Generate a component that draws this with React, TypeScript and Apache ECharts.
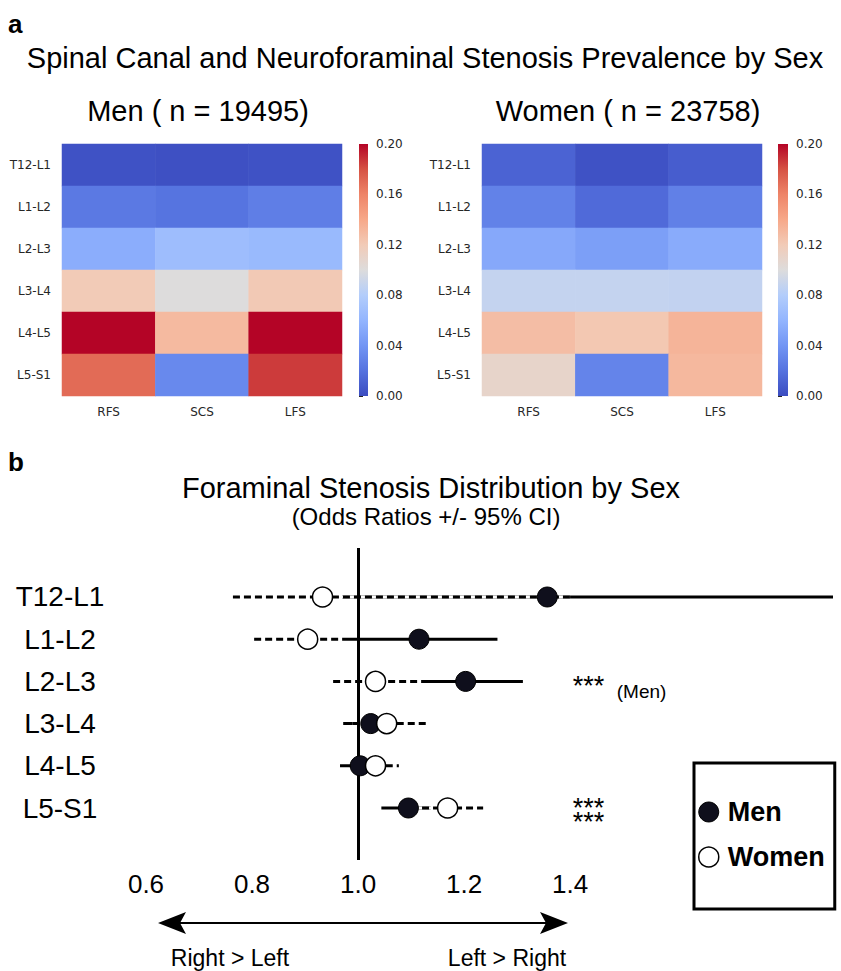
import React, { useEffect, useRef } from 'react';
import * as echarts from 'echarts';

// ---------- data ----------
const levels = ['T12-L1', 'L1-L2', 'L2-L3', 'L3-L4', 'L4-L5', 'L5-S1'];
const stenosisTypes = ['RFS', 'SCS', 'LFS'];

// prevalence per level: [RFS, SCS, LFS]
const menPrevalence = [
  [0.003, 0.002, 0.003],
  [0.024, 0.021, 0.027],
  [0.055, 0.067, 0.064],
  [0.12, 0.1, 0.121],
  [0.2, 0.13, 0.2],
  [0.17, 0.033, 0.186],
];
const womenPrevalence = [
  [0.012, 0.003, 0.009],
  [0.029, 0.016, 0.028],
  [0.052, 0.046, 0.054],
  [0.088, 0.088, 0.087],
  [0.128, 0.122, 0.133],
  [0.11, 0.03, 0.131],
];
const colorbarMin = 0;
const colorbarMax = 0.2;
const colorbarStep = 0.04;

// odds ratios (left vs right foraminal stenosis) with 95% CI
const menOR = [1.357, 1.115, 1.203, 1.024, 1.004, 1.095];
const menLow = [0.97, 0.97, 1.107, 0.972, 0.966, 1.044];
const menHigh = [1.93, 1.263, 1.311, 1.075, 1.04, 1.137];
const womenOR = [0.933, 0.905, 1.033, 1.054, 1.033, 1.169];
const womenLow = [0.764, 0.804, 0.953, 0.99, 0.99, 1.1];
const womenHigh = [1.4, 0.965, 1.132, 1.132, 1.077, 1.236];
const orTicks = [0.6, 0.8, 1.0, 1.2, 1.4];

// significance annotations
const sigRows = [2, 5];
const sigMarks = [['***'], ['***', '***']];
const sigNotes = ['(Men)', ''];

const coolwarm = [
  '#3b4cc0', '#5572df', '#7295f4', '#93b5fe', '#b3cdfb', '#dddcdc',
  '#f2cbb7', '#f7a889', '#ee8468', '#d65244', '#b40426',
];

const ARIAL = '"Liberation Sans", Arial, Helvetica, sans-serif';
const DEJAVU = '"DejaVu Sans", sans-serif';

export default function App() {
  const ref = useRef<HTMLDivElement>(null);

  useEffect(() => {
    if (!ref.current) return;
    const chart = echarts.init(ref.current, undefined, { renderer: 'svg' });

    const heatData = (m: number[][]) => {
      const out: number[][] = [];
      m.forEach((row, r) => row.forEach((v, c) => out.push([c, r, v])));
      return out;
    };

    const gradient = () =>
      new echarts.graphic.LinearGradient(
        0, 1, 0, 0,
        coolwarm.map((c, i) => ({ offset: i / (coolwarm.length - 1), color: c }))
      );

    const colorbarRender = (params: any, api: any) => {
      const tl = api.coord([0, colorbarMax]);
      const br = api.coord([1, colorbarMin]);
      return {
        type: 'rect',
        shape: { x: tl[0], y: tl[1], width: br[0] - tl[0], height: br[1] - tl[1] },
        style: { fill: gradient() },
      };
    };

    const ciRender = (dashed: boolean) => (params: any, api: any) => {
      const a = api.coord([api.value(0), api.value(2)]);
      const b = api.coord([api.value(1), api.value(2)]);
      const shape = { x1: a[0], y1: a[1], x2: b[0], y2: b[1] };
      if (!dashed) {
        return { type: 'line', shape, style: { stroke: '#000', lineWidth: 3 } };
      }
      return {
        type: 'group',
        children: [
          { type: 'line', shape, style: { stroke: '#ffffff', lineWidth: 3 } },
          { type: 'line', shape, style: { stroke: '#000', lineWidth: 3, lineDash: [7, 4] } },
        ],
      };
    };

    const ANNOT_X = 1.405;
    const annotRender = (params: any, api: any) => {
      const i = params.dataIndex;
      const p = api.coord([ANNOT_X, api.value(0)]);
      const marks = sigMarks[i];
      const children: any[] = [
        {
          type: 'text',
          x: p[0],
          y: p[1] + (marks.length === 1 ? 5 : 7),
          style: {
            text: marks.join('\n'),
            fontSize: 27,
            lineHeight: 14,
            fontFamily: ARIAL,
            fill: '#000',
            align: 'left',
            verticalAlign: 'middle',
          },
        },
      ];
      if (sigNotes[i]) {
        children.push({
          type: 'text',
          x: p[0] + 44,
          y: p[1] + 10,
          style: { text: sigNotes[i], fontSize: 19, fontFamily: ARIAL, fill: '#000', align: 'left', verticalAlign: 'middle' },
        });
      }
      return { type: 'group', children };
    };

    const heatX = (gi: number) => ({
      gridIndex: gi,
      type: 'category',
      data: stenosisTypes,
      axisLine: { show: false },
      axisTick: { show: false },
      axisLabel: { margin: 10, fontFamily: DEJAVU, fontSize: 12, color: '#262626' },
    });
    const heatY = (gi: number) => ({
      gridIndex: gi,
      type: 'category',
      data: levels,
      inverse: true,
      axisLine: { show: false },
      axisTick: { show: false },
      axisLabel: { margin: 11, fontFamily: DEJAVU, fontSize: 12, color: '#262626' },
    });
    const cbX = (gi: number) => ({ gridIndex: gi, type: 'value', min: 0, max: 1, show: false });
    const cbY = (gi: number) => ({
      gridIndex: gi,
      type: 'value',
      position: 'right',
      min: colorbarMin,
      max: colorbarMax,
      interval: colorbarStep,
      axisLine: { show: false },
      axisTick: { show: true, length: 4, lineStyle: { color: '#262626', width: 1 } },
      splitLine: { show: false },
      axisLabel: {
        margin: 8,
        fontFamily: DEJAVU,
        fontSize: 12,
        color: '#262626',
        formatter: (v: number) => v.toFixed(2),
      },
    });

    const option: any = {
      animation: false,
      backgroundColor: '#fff',
      grid: [
        { left: 62, top: 144, width: 280, height: 252 },
        { left: 482, top: 144, width: 280, height: 252 },
        { left: 359, top: 144, width: 9, height: 252 },
        { left: 778, top: 144, width: 10, height: 252 },
        { left: 146, top: 548, width: 687, height: 312 },
      ],
      xAxis: [
        heatX(0),
        heatX(1),
        cbX(2),
        cbX(3),
        {
          gridIndex: 4,
          type: 'value',
          min: 0.6,
          max: 1.896,
          interval: 0.2,
          axisLine: { show: false },
          axisTick: { show: false },
          splitLine: { show: false },
          axisLabel: {
            showMaxLabel: false,
            margin: 11,
            fontFamily: ARIAL,
            fontSize: 26,
            color: '#000',
            formatter: (v: number) =>
              orTicks.some((t) => Math.abs(t - v) < 1e-6) ? v.toFixed(1) : '',
          },
        },
      ],
      yAxis: [
        heatY(0),
        heatY(1),
        cbY(2),
        cbY(3),
        {
          gridIndex: 4,
          type: 'value',
          min: -1.161,
          max: 6.232,
          inverse: true,
          axisLine: { show: false },
          axisTick: { show: false },
          splitLine: { show: false },
          axisLabel: {
            customValues: [0, 1, 2, 3, 4, 5],
            formatter: (v: number) => levels[Math.round(v)] ?? '',
            fontFamily: ARIAL,
            fontSize: 28,
            color: '#000',
            align: 'center',
            margin: 86,
          },
        },
      ],
      visualMap: {
        type: 'continuous',
        show: false,
        min: colorbarMin,
        max: colorbarMax,
        dimension: 2,
        seriesIndex: [0, 1],
        inRange: { color: coolwarm },
      },
      legend: {
        data: [
          { name: 'Men', itemStyle: { color: '#0f0f1c', borderColor: '#000', borderWidth: 1 } },
          { name: 'Women', itemStyle: { color: '#fff', borderColor: '#000', borderWidth: 1.5 } },
        ],
        orient: 'vertical',
        left: 694,
        top: 763,
        padding: [35, 10, 38, 4],
        itemWidth: 28,
        itemHeight: 20,
        itemGap: 17,
        icon: 'circle',
        borderColor: '#000',
        borderWidth: 3,
        borderRadius: 0,
        backgroundColor: '#fff',
        selectedMode: false,
        textStyle: { fontFamily: ARIAL, fontWeight: 'bold', fontSize: 27, color: '#000', lineHeight: 28 },
      },
      series: [
        {
          type: 'heatmap',
          xAxisIndex: 0,
          yAxisIndex: 0,
          data: heatData(menPrevalence),
          itemStyle: { borderWidth: 0 },
          emphasis: { disabled: true },
        },
        {
          type: 'heatmap',
          xAxisIndex: 1,
          yAxisIndex: 1,
          data: heatData(womenPrevalence),
          itemStyle: { borderWidth: 0 },
          emphasis: { disabled: true },
        },
        {
          type: 'custom',
          xAxisIndex: 2,
          yAxisIndex: 2,
          data: [[0, 0]],
          encode: { x: 0, y: 1 },
          renderItem: colorbarRender,
          silent: true,
        },
        {
          type: 'custom',
          xAxisIndex: 3,
          yAxisIndex: 3,
          data: [[0, 0]],
          encode: { x: 0, y: 1 },
          renderItem: colorbarRender,
          silent: true,
        },
        {
          type: 'custom',
          name: 'Men CI',
          xAxisIndex: 4,
          yAxisIndex: 4,
          clip: true,
          z: 2,
          data: levels.map((_, i) => [menLow[i], menHigh[i], i]),
          encode: { x: [0, 1], y: 2 },
          renderItem: ciRender(false),
          silent: true,
        },
        {
          type: 'custom',
          name: 'Women CI',
          xAxisIndex: 4,
          yAxisIndex: 4,
          clip: true,
          z: 3,
          data: levels.map((_, i) => [womenLow[i], womenHigh[i], i]),
          encode: { x: [0, 1], y: 2 },
          renderItem: ciRender(true),
          silent: true,
        },
        {
          type: 'scatter',
          name: 'ref',
          xAxisIndex: 4,
          yAxisIndex: 4,
          data: [],
          z: 4,
          markLine: {
            silent: true,
            symbol: ['none', 'none'],
            label: { show: false },
            lineStyle: { color: '#000', width: 3, type: 'solid' },
            data: [{ xAxis: 1 }],
          },
        },
        {
          type: 'scatter',
          name: 'Men',
          xAxisIndex: 4,
          yAxisIndex: 4,
          z: 10,
          symbol: 'circle',
          symbolSize: 20,
          itemStyle: { color: '#0f0f1c', borderColor: '#000', borderWidth: 1, opacity: 1 },
          data: menOR.map((v, i) => [v, i]),
          silent: true,
        },
        {
          type: 'scatter',
          name: 'Women',
          xAxisIndex: 4,
          yAxisIndex: 4,
          z: 11,
          symbol: 'circle',
          symbolSize: 20,
          itemStyle: { color: '#fff', borderColor: '#000', borderWidth: 1.5, opacity: 1 },
          data: womenOR.map((v, i) => [v, i]),
          silent: true,
        },
        {
          type: 'custom',
          name: 'sig',
          xAxisIndex: 4,
          yAxisIndex: 4,
          z: 12,
          data: sigRows.map((r) => [r]),
          encode: { y: 0 },
          renderItem: annotRender,
          silent: true,
        },
      ],
      graphic: [
        { type: 'text', x: 8, y: 24, style: { text: 'a', font: `bold 26px ${ARIAL}`, fill: '#000', align: 'left', verticalAlign: 'middle' } },
        { type: 'text', x: 425, y: 58, style: { text: 'Spinal Canal and Neuroforaminal Stenosis Prevalence by Sex', font: `29px ${ARIAL}`, fill: '#000', align: 'center', verticalAlign: 'middle' } },
        { type: 'text', x: 198, y: 111, style: { text: 'Men ( n = 19495)', font: `29px ${ARIAL}`, fill: '#000', align: 'center', verticalAlign: 'middle' } },
        { type: 'text', x: 628, y: 111, style: { text: 'Women ( n = 23758)', font: `29px ${ARIAL}`, fill: '#000', align: 'center', verticalAlign: 'middle' } },
        { type: 'text', x: 8, y: 462, style: { text: 'b', font: `bold 26px ${ARIAL}`, fill: '#000', align: 'left', verticalAlign: 'middle' } },
        { type: 'text', x: 431, y: 488, style: { text: 'Foraminal Stenosis Distribution by Sex', font: `29px ${ARIAL}`, fill: '#000', align: 'center', verticalAlign: 'middle' } },
        { type: 'text', x: 426, y: 516, style: { text: '(Odds Ratios +/- 95% CI)', font: `24px ${ARIAL}`, fill: '#000', align: 'center', verticalAlign: 'middle' } },
        { type: 'line', shape: { x1: 178, y1: 923, x2: 548, y2: 923 }, style: { stroke: '#000', lineWidth: 2 } },
        { type: 'polygon', shape: { points: [[158, 923], [186, 912], [180, 923], [186, 934]] }, style: { fill: '#000' } },
        { type: 'polygon', shape: { points: [[568, 923], [540, 912], [546, 923], [540, 934]] }, style: { fill: '#000' } },
        { type: 'text', x: 230, y: 958, style: { text: 'Right > Left', font: `23px ${ARIAL}`, fill: '#000', align: 'center', verticalAlign: 'middle' } },
        { type: 'text', x: 507, y: 958, style: { text: 'Left > Right', font: `23px ${ARIAL}`, fill: '#000', align: 'center', verticalAlign: 'middle' } },
      ],
    };

    chart.setOption(option);
    return () => chart.dispose();
  }, []);

  return (
    <div
      ref={ref}
      style={{ position: 'absolute', left: 0, top: 0, width: 841, height: 971, background: '#fff' }}
    />
  );
}
